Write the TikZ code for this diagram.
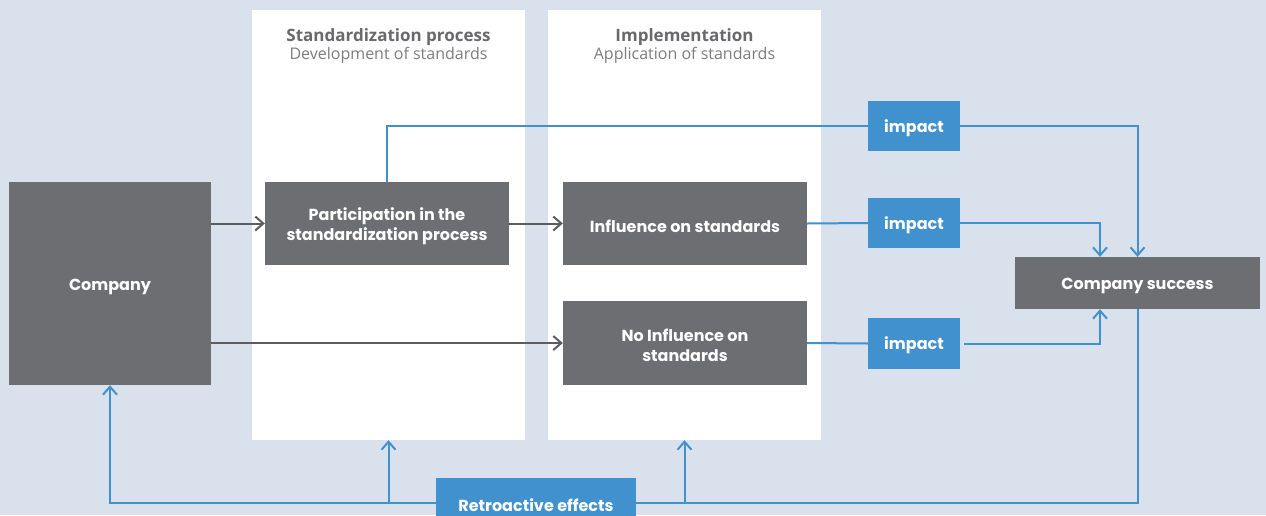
\documentclass[tikz,border=0pt]{standalone}
\usepackage{fontspec}
\setmainfont{Poppins}
\newfontfamily\headfont{Open Sans}
\usetikzlibrary{arrows.meta}
\definecolor{bgc}{RGB}{217,225,236}
\definecolor{boxgray}{RGB}{109,110,113}
\definecolor{bluec}{RGB}{66,145,207}
\definecolor{headgray}{RGB}{105,105,108}
\definecolor{subgray}{RGB}{125,125,128}
\newcommand\topstrut{\rule{0pt}{18pt}}
\tikzset{
  panel/.style={fill=white, draw=none, minimum width=273pt, minimum height=430pt, inner sep=0pt},
  graybox/.style={fill=boxgray, draw=none, text=white, align=center, inner sep=0pt, font=\fontsize{16}{20}\selectfont\bfseries, execute at begin node={\rule{0pt}{17.5pt}}},
  bluebox/.style={fill=bluec, draw=none, text=white, align=center, inner sep=0pt, font=\fontsize{16}{20}\selectfont\bfseries, execute at begin node={\rule{0pt}{17pt}}},
  grayline/.style={draw=boxgray!85!black, line width=2pt, -{Straight Barb[length=8pt,width=14pt,line width=2pt]}},
  blueline/.style={draw=bluec, line width=2pt},
  bluearrow/.style={blueline, -{Straight Barb[length=8pt,width=14pt,line width=2pt]}},
  headtext/.style={text=headgray, font=\headfont\fontsize{17}{18}\selectfont\bfseries},
  subtext/.style={text=subgray, font=\headfont\fontsize{16}{18}\selectfont}
}
\begin{document}
\begin{tikzpicture}[x=1pt,y=-1pt]
\useasboundingbox (0,0) rectangle (1266,515);
\clip (0,0) rectangle (1266,515);
\fill[bgc] (0,0) rectangle (1266,515);
% panels
\node[panel] (panel1) at (388.5,225) {};
\node[panel] (panel2) at (684.5,225) {};
\node[headtext] (h1) at (388.5,37) {Standardization process};
\node[subtext] (s1) at (388.5,55) {Development of standards};
\node[headtext] (h2) at (684.5,37) {Implementation};
\node[subtext] (s2) at (684.5,55) {Application of standards};
% gray boxes
\node[graybox, minimum width=202pt, minimum height=203pt] (company) at (110,283.5) {Company};
\node[graybox, minimum width=244pt, minimum height=83pt] (part) at (387,223.5) {\topstrut Participation in the\\standardization process};
\node[graybox, minimum width=244pt, minimum height=83pt] (infl) at (685,223.5) {Influence on standards};
\node[graybox, minimum width=244pt, minimum height=84pt] (noinf) at (685,343) {\topstrut No Influence on\\standards};
\node[graybox, minimum width=245pt, minimum height=52pt] (success) at (1137.5,283) {Company success};
% blue boxes
\node[bluebox, minimum width=92pt, minimum height=50pt] (imp1) at (914,126) {impact};
\node[bluebox, minimum width=92pt, minimum height=50pt] (imp2) at (914,223) {impact};
\node[bluebox, minimum width=92pt, minimum height=51pt] (imp3) at (914,343.5) {impact};
\node[bluebox, minimum width=200pt, minimum height=50pt] (retro) at (536,503) {Retroactive effects};
% gray connectors
\draw[grayline] (part.west -| company.east) -- (part.west);
\draw[grayline] (part.east) -- (infl.west);
\draw[grayline] (noinf.west -| company.east) -- (noinf.west);
% blue connectors
\draw[blueline] (part.north) |- (imp1.west);
\draw[bluearrow] (imp1.east) -| (success.north);
\draw[blueline] (infl.east) -- (imp2.west);
\draw[bluearrow] (imp2.east) -| ([xshift=-37.5pt]success.north);
\draw[blueline] (noinf.east) -- (imp3.west);
\draw[bluearrow, shorten <=4pt] (imp3.east) -| ([xshift=-37.5pt]success.south);
\draw[bluearrow] (retro.west) -| (company.south);
\draw[bluearrow] (panel1.south |- retro.west) -- (panel1.south);
\draw[blueline] (success.south) |- (retro.east);
\draw[bluearrow] (panel2.south |- retro.east) -- (panel2.south);
\end{tikzpicture}
\end{document}
